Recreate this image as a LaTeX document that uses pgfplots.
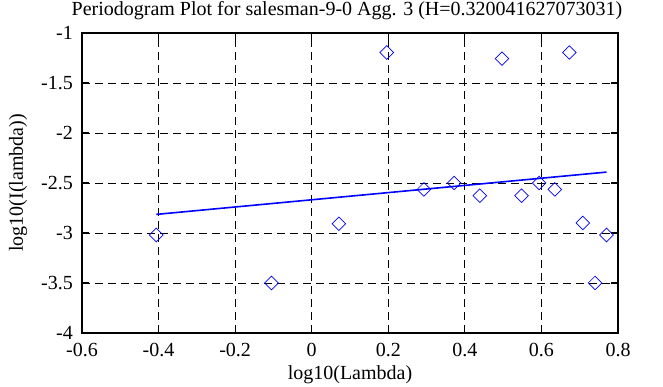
\documentclass[border=0pt]{standalone}
\usepackage{fontspec}
\setmainfont{Liberation Serif}
\usepackage{pgfplots}
\pgfplotsset{compat=1.18}
\begin{document}
\fontsize{20pt}{24pt}\selectfont
\begin{tikzpicture}[x=1pt,y=1pt]
\begin{axis}[
  scale only axis,
  width=536pt, height=300pt,
  at={(82pt,54pt)}, anchor=south west,
  xmin=-0.6, xmax=0.8, ymin=-4, ymax=-1,
  xtick={-0.6,-0.4,...,0.8},
  ytick={-4,-3.5,...,-1},
  /pgf/number format/assume math mode=true,
  /pgf/number format/fixed,
  tick label style={font=\fontsize{20pt}{24pt}\selectfont, inner sep=0pt},
  xticklabel style={anchor=center, yshift=-17pt},
  yticklabel style={anchor=east, xshift=-9pt},
  grid=major,
  major grid style={black, line width=0.8pt, dash pattern=on 8pt off 5pt},
  axis line style={black, line width=2pt},
  tick style={black, line width=1.2pt},
  tick align=inside,
  major tick length=7pt,
  xlabel={log10(Lambda)},
  ylabel={log10(I(lambda))},
  label style={font=\fontsize{20pt}{24pt}\selectfont, inner sep=0pt},
  xlabel style={at={(0.5,0)}, anchor=center, yshift=-42pt},
  ylabel style={at={(0,0.5)}, anchor=center, rotate=0, yshift=64pt},
  every axis title shift=0pt,
  title={Periodogram Plot for salesman-9-0 Agg. 3 (H=0.320041627073031)},
  title style={font=\fontsize{20pt}{24pt}\selectfont, at={(0.5,1)}, anchor=base, yshift=17pt, xshift=-3pt, inner sep=0pt},
  clip=false,
]
\addplot[only marks, blue, mark=square, mark size=4.8pt, mark options={rotate=45, line width=0.7pt}] coordinates {
(-0.406,-3.02) (-0.105,-3.50) (0.071,-2.908) (0.196,-1.195) (0.293,-2.564)
(0.372,-2.50) (0.439,-2.627) (0.497,-1.257) (0.548,-2.627) (0.594,-2.50)
(0.635,-2.564) (0.673,-1.195) (0.708,-2.90) (0.740,-3.50) (0.770,-3.02)
};
\addplot[blue, line width=1.6pt, no marks] coordinates {(-0.406,-2.814) (0.770,-2.391)};
\end{axis}
\pgfresetboundingbox
\path (0,0) rectangle (663,387);
\end{tikzpicture}
\end{document}
